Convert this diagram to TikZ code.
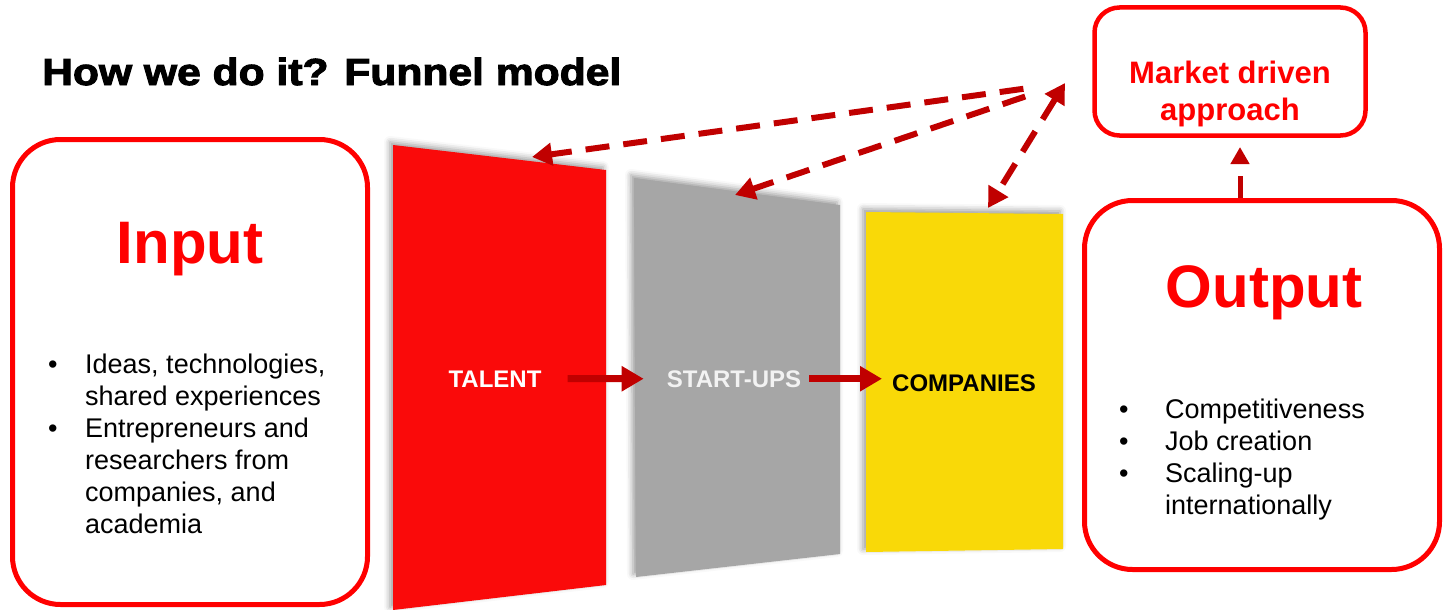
\documentclass[tikz,border=0pt]{standalone}
\usepackage{fontspec}
\setmainfont{Liberation Sans}
\newfontfamily\titlefont[FakeBold=2.5]{Liberation Sans Bold}
\usepackage{tikz}
\usetikzlibrary{arrows.meta}
\usetikzlibrary{shadows.blur}
\definecolor{boxred}{HTML}{FF0000}
\definecolor{arrowred}{HTML}{C00000}
\definecolor{talentred}{HTML}{FA0A0A}
\definecolor{startgray}{HTML}{A6A6A6}
\definecolor{startwhite}{HTML}{F2F2F2}
\definecolor{compyellow}{HTML}{F9D908}
\tikzset{every edge/.style={draw, arrowred}}
\tikzset{
  roundbox/.style={draw=boxred, line width=5pt, rounded corners=48pt, inner sep=0pt},
  panel/.style={blur shadow={shadow xshift=-3pt, shadow yshift=3pt, shadow blur radius=6pt, shadow opacity=40}},
  panellabel/.style={inner sep=0pt, font=\fontsize{24}{28}\selectfont\bfseries},
  biglabel/.style={text=boxred, inner sep=0pt, font=\fontsize{60}{66}\selectfont\bfseries},
  bullets/.style={inner sep=0pt, font=\fontsize{27}{32}\selectfont},
  flow/.style={line width=7pt, -{Triangle[length=22pt,width=24pt]}},
  dasharrow/.style={line width=6pt, dash pattern=on 24pt off 14pt, -{Triangle[length=20pt,width=22pt]}}
}

\begin{document}
\begin{tikzpicture}[x=1pt, y=-1pt]
    \path[use as bounding box] (0, 0) rectangle (1443, 610);

    \node[anchor=base west, inner sep=0pt, font=\fontsize{37.7}{40}\titlefont] at (42, 85) (title) {\scalebox{1.13}[1]{How we do it? Funnel model}};

    % funnel panels
    \fill[talentred, panel] (393, 145) -- (606, 170) -- (606, 585) -- (393, 610) -- cycle;
    \fill[startgray, panel] (634, 178) -- (840, 205) -- (840, 554) -- (636, 577) -- cycle;
    \fill[compyellow, panel] (866, 212) -- (1063, 214) -- (1063, 549) -- (866, 552) -- cycle;

    \node[panellabel, anchor=base, text=white] at (495, 387) (talent) {TALENT};
    \node[panellabel, anchor=base, text=startwhite] at (734, 387) (startups) {START-UPS};
    \node[panellabel, anchor=base, text=black] at (964, 391) (companies) {COMPANIES};

    \draw (talent) edge[flow, shorten <=26pt, shorten >=23pt] (startups);
    \draw (startups.east) edge[flow, shorten <=8pt, shorten >=10pt] (companies.west |- startups.east);

    % input and output
    \node[roundbox, minimum width=355pt, minimum height=465pt] at (190, 372) (inputbox) {};
    \node[biglabel, anchor=base] at (190, 263) (input) {Input};
    \node[bullets, anchor=base west] at (48, 373) (inputlist) {%
      \begin{tabular}[t]{@{}p{37pt}@{}l@{}}
        \textbullet & Ideas, technologies,\\
                    & shared experiences\\
        \textbullet & Entrepreneurs and\\
                    & researchers from\\
                    & companies, and\\
                    & academia
      \end{tabular}};

    \node[roundbox, minimum width=355pt, minimum height=369pt] at (1262, 385) (outputbox) {};
    \node[biglabel, anchor=base] at (1264, 307) (output) {Output};
    \node[bullets, anchor=base west] at (1119, 418) (outputlist) {%
      \begin{tabular}[t]{@{}p{46pt}@{}l@{}}
        \textbullet & Competitiveness\\
        \textbullet & Job creation\\
        \textbullet & Scaling-up\\
                    & internationally
      \end{tabular}};

    \node[roundbox, rounded corners=25pt, line width=4.5pt, minimum width=271pt, minimum height=128pt] at (1230, 71.5) (marketbox) {};
    \node[anchor=north, align=center, text=boxred, inner sep=0pt, font=\fontsize{31}{37}\selectfont\bfseries] at (1230, 61) (market) {Market driven\\approach};

    % feedback
    \coordinate (hub) at (1065, 83);
    \coordinate (talenttop) at (532, 157);
    \coordinate (startuptop) at (735, 195);
    \coordinate (comptop) at (988, 208);
    \coordinate (markettip) at (1240, 147);

    \draw (hub) edge[dasharrow, shorten <=42pt] (talenttop);
    \draw (hub) edge[dasharrow, shorten <=42pt] (startuptop);
    \draw (hub) edge[dasharrow, {Triangle[length=20pt,width=22pt]}-{Triangle[length=20pt,width=22pt]}] (comptop);
    \draw (outputbox.north -| markettip) edge[line width=5pt, dash pattern=on 22pt off 12pt, -{Triangle[length=17pt,width=18pt]}] (markettip);
\end{tikzpicture}
\end{document}
